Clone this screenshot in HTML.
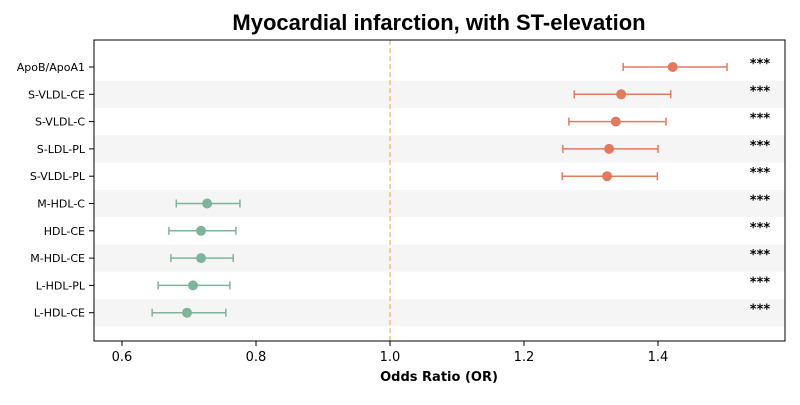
<!DOCTYPE html>
<html><head><meta charset="utf-8"><style>
body{margin:0;background:#fff}
svg text{font-family:"DejaVu Sans","Liberation Sans",sans-serif}
</style></head><body>
<svg id="chart" width="800" height="400" xmlns="http://www.w3.org/2000/svg">
<text x="439" y="30" text-anchor="middle" font-size="22" font-weight="bold" style="font-family:'Liberation Sans',sans-serif">Myocardial infarction, with ST-elevation</text>
<g id="bands"></g>
<g id="marks"></g>
<rect x="94" y="40" width="691" height="301" fill="none" stroke="#000" stroke-width="1"/>
<g id="axes"></g>
<text x="439" y="381" text-anchor="middle" font-size="13" font-weight="bold">Odds Ratio (OR)</text>
</svg>
<script>
const categories=["ApoB/ApoA1","S-VLDL-CE","S-VLDL-C","S-LDL-PL","S-VLDL-PL","M-HDL-C","HDL-CE","M-HDL-CE","L-HDL-PL","L-HDL-CE"];
const orValues=[1.422,1.345,1.337,1.327,1.324,0.727,0.718,0.718,0.706,0.697];
const ciLow=[1.348,1.275,1.267,1.258,1.257,0.681,0.670,0.673,0.654,0.645];
const ciHigh=[1.503,1.419,1.412,1.400,1.399,0.776,0.770,0.766,0.761,0.755];
const sig=["***","***","***","***","***","***","***","***","***","***"];
const xTicks=[0.6,0.8,1.0,1.2,1.4];
const xTickLabels=["0.6","0.8","1.0","1.2","1.4"];
const NS="http://www.w3.org/2000/svg";
const xS=v=>122+(v-0.6)*670;
const yS=i=>67+i*27.3;
function mk(tag,attrs,parent,txt){const e=document.createElementNS(NS,tag);for(const k in attrs)e.setAttribute(k,attrs[k]);if(txt!==undefined)e.textContent=txt;parent.appendChild(e);return e;}
const bands=document.getElementById('bands'),marks=document.getElementById('marks'),axes=document.getElementById('axes');
categories.forEach((c,i)=>{
 if(i%2===1){const b=mk('rect',{x:94,y:yS(i)-13.65,width:691,height:27.3,fill:'#f5f5f5'},bands);
 
 }
 const t=mk('line',{x1:89,x2:94,y1:yS(i),y2:yS(i),stroke:'#000'},axes);
 
 
 const l=mk('text',{x:85,y:yS(i)+4,'text-anchor':'end','font-size':11},axes,c);
 
 
});
const ref=mk('line',{x1:xS(1),x2:xS(1),y1:40,y2:341,stroke:'#f0c27a','stroke-width':1.5,'stroke-dasharray':'5,3'},marks);


categories.forEach((c,i)=>{
 const col=orValues[i]>1?'#e07b5f':'#7fb39a';
 const y=yS(i);
 const g=mk('g',{},marks);
 
 
 mk('line',{x1:xS(ciLow[i]),x2:xS(ciHigh[i]),y1:y,y2:y,stroke:col,'stroke-width':1.5},g);
 mk('line',{x1:xS(ciLow[i]),x2:xS(ciLow[i]),y1:y-4,y2:y+4,stroke:col,'stroke-width':1.5},g);
 mk('line',{x1:xS(ciHigh[i]),x2:xS(ciHigh[i]),y1:y-4,y2:y+4,stroke:col,'stroke-width':1.5},g);
 mk('circle',{cx:xS(orValues[i]),cy:y,r:5,fill:col},g);
 const s=mk('text',{x:760,y:y+1,'text-anchor':'middle','font-size':13,'font-weight':'bold'},marks,sig[i]);
 
 
});
xTicks.forEach((v,i)=>{
 const t=mk('line',{x1:xS(v),x2:xS(v),y1:341,y2:346,stroke:'#000'},axes);
 
 
 const l=mk('text',{x:xS(v),y:361,'text-anchor':'middle','font-size':13},axes,xTickLabels[i]);
 
 
});
</script>
</body></html>
